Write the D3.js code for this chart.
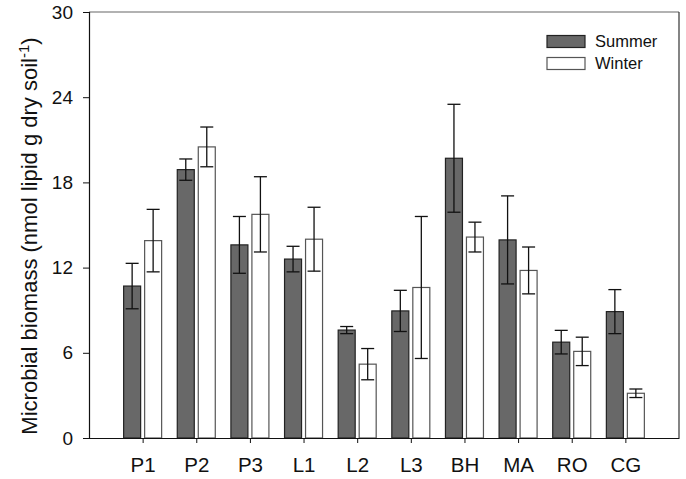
<!DOCTYPE html>
<html><head><meta charset="utf-8">
<script src="https://cdn.jsdelivr.net/npm/d3@7"></script>
<style>body{margin:0;background:#fff}svg{display:block}text{font-family:"Liberation Sans",Arial,sans-serif}</style>
</head><body><svg id="c" width="686" height="479"></svg>
<script>
const categories = ["P1","P2","P3","L1","L2","L3","BH","MA","RO","CG"];
const summer    = [10.7, 18.9, 13.6, 12.6, 7.6, 8.95, 19.7, 13.95, 6.75, 8.9];
const summerErr = [1.6, 0.75, 2.0, 0.9, 0.25, 1.45, 3.8, 3.1, 0.83, 1.55];
const winter    = [13.9, 20.5, 15.75, 14.0, 5.2, 10.6, 14.15, 11.8, 6.1, 3.15];
const winterErr = [2.2, 1.4, 2.65, 2.25, 1.1, 5.0, 1.05, 1.65, 1.0, 0.3];
const yTicks = [0, 6, 12, 18, 24, 30];
const seriesNames = ["Summer","Winter"];

const svg = d3.select("#c");
const L = 89, R = 679, T = 12, B = 438;
const x = d3.scaleLinear().domain([0, categories.length + 1]).range([L, R]);
const y = d3.scaleLinear().domain([0, 30]).range([B, T]);
const bw = 17, gap = 2;

// frame top and right
svg.append("line").attr("x1", L).attr("x2", R).attr("y1", T).attr("y2", T).attr("stroke", "#666").attr("stroke-width", 1.2);
svg.append("line").attr("x1", R).attr("x2", R).attr("y1", T).attr("y2", B).attr("stroke", "#333").attr("stroke-width", 1.2);

const series = [
  {name: "Summer", vals: summer, err: summerErr, fill: "#686868", stroke: "#222", off: -gap - bw},
  {name: "Winter", vals: winter, err: winterErr, fill: "#ffffff", stroke: "#555", off: gap}
];

series.forEach(s => {
  const g = svg.append("g");
  g.selectAll("rect").data(categories).join("rect")
    .attr("x", (d, i) => x(i + 1) + s.off)
    .attr("y", (d, i) => y(s.vals[i]))
    .attr("width", bw)
    .attr("height", (d, i) => y(0) - y(s.vals[i]))
    .attr("fill", s.fill).attr("stroke", s.stroke).attr("stroke-width", 1.2);
  const eg = svg.append("g").attr("stroke", "#111").attr("stroke-width", 1.3);
  categories.forEach((c, i) => {
    const cx = x(i + 1) + s.off + bw / 2;
    const hi = y(s.vals[i] + s.err[i]), lo = y(s.vals[i] - s.err[i]);
    eg.append("line").attr("x1", cx).attr("x2", cx).attr("y1", hi).attr("y2", lo);
    eg.append("line").attr("x1", cx - 6.5).attr("x2", cx + 6.5).attr("y1", hi).attr("y2", hi);
    eg.append("line").attr("x1", cx - 6.5).attr("x2", cx + 6.5).attr("y1", lo).attr("y2", lo);
  });
});

// y axis
const ya = svg.append("g").attr("transform", `translate(${L},0)`)
  .call(d3.axisLeft(y).tickValues(yTicks).tickSize(6).tickPadding(10));
ya.select(".domain").attr("stroke", "#111").attr("stroke-width", 1.2);
ya.selectAll(".tick line").attr("stroke", "#111");
ya.selectAll("text").attr("font-size", 19).attr("fill", "#111").attr("font-family", "Liberation Sans, Arial, sans-serif");

// x axis
const xa = svg.append("g").attr("transform", `translate(0,${B})`)
  .call(d3.axisBottom(x).tickValues(d3.range(1, categories.length + 1)).tickFormat(d => categories[d - 1]).tickSize(5).tickPadding(14).tickSizeOuter(0));
xa.select(".domain").attr("stroke", "#111").attr("stroke-width", 1.2);
xa.selectAll(".tick line").attr("stroke", "#111");
xa.selectAll("text").attr("font-size", 20.5).attr("fill", "#111").attr("font-family", "Liberation Sans, Arial, sans-serif");

// y label
const yl = svg.append("text").attr("transform", `translate(36.5,236) rotate(-90)`)
  .attr("text-anchor", "middle").attr("font-size", 22).attr("fill", "#111");
yl.append("tspan").text("Microbial biomass (nmol lipid g dry soil");
yl.append("tspan").attr("dy", -8).attr("font-size", 15).text("-1");
yl.append("tspan").attr("dy", 8).text(")");

// legend
const lg = svg.append("g");
seriesNames.forEach((n, i) => {
  const s = series[i];
  lg.append("rect").attr("x", 547).attr("y", 35.5 + i * 22).attr("width", 38).attr("height", 12)
    .attr("fill", s.fill).attr("stroke", s.stroke).attr("stroke-width", 1.2);
  lg.append("text").attr("x", 595).attr("y", 47 + i * 21.5).attr("font-size", 16.5).attr("fill", "#111").text(n);
});
</script></body></html>
